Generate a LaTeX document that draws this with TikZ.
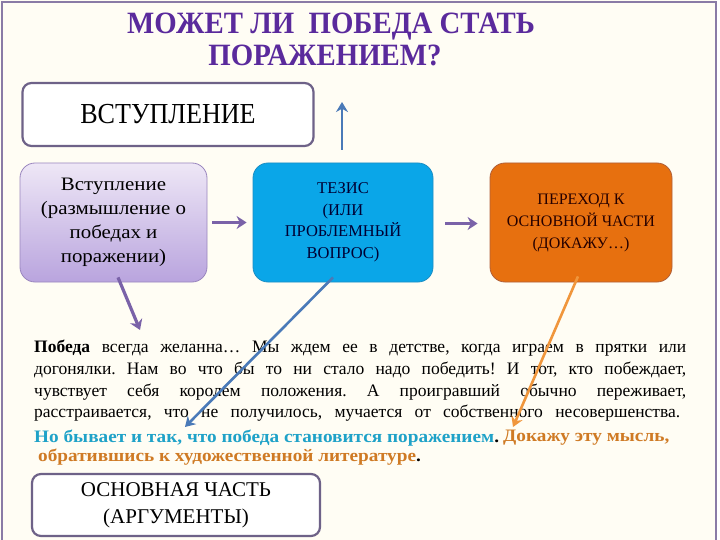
\documentclass[tikz,border=0pt]{standalone}
\usepackage{fontspec}
\setmainfont{Liberation Serif}
\newfontfamily\wideserif{Liberation Serif}[FakeStretch=1.1]
\usetikzlibrary{arrows.meta}
\frenchspacing

\definecolor{paper}{HTML}{FFFDF4}
\definecolor{frameLine}{HTML}{8A7BA6}
\definecolor{boxEdge}{HTML}{6E6288}
\definecolor{lavTop}{HTML}{EEE7F6}
\definecolor{lavBot}{HTML}{B9A4DE}
\definecolor{lavEdge}{HTML}{9A86BE}
\definecolor{thesisBlue}{HTML}{0AA6E8}
\definecolor{thesisEdge}{HTML}{1B8EC4}
\definecolor{transOrange}{HTML}{E7700F}
\definecolor{transEdge}{HTML}{B0603A}
\definecolor{titlePurple}{HTML}{5A2A9C}
\definecolor{arrPurple}{HTML}{7A62A8}
\definecolor{arrBlue}{HTML}{4A7AB8}
\definecolor{arrOrange}{HTML}{F0963C}
\definecolor{txtBlue}{HTML}{1FA2C8}
\definecolor{txtOrange}{HTML}{CF7A24}

\begin{document}
\begin{tikzpicture}[x=1pt, y=-1pt,
        box/.style={draw=boxEdge, line width=2.2pt, rounded corners=9pt, fill=white, align=center},
        colorbox/.style={rounded corners=15pt, minimum width=182pt, minimum height=119pt, align=center},
        line/.style={anchor=west, inner sep=0pt},
        arrowPurple/.style={arrPurple, line width=3.2pt, -{Stealth[length=10pt, width=13pt]}},
        arrowBlue/.style={arrBlue, line width=2.6pt, -{Stealth[length=10pt, width=12pt]}},
        arrowOrange/.style={arrOrange, line width=2.6pt, -{Stealth[length=10pt, width=12pt]}}]

        \useasboundingbox (0,0) rectangle (720,540);
        \fill[paper] (0,0) rectangle (716,540);
        \draw[frameLine, line width=2.5pt] (2,541) -- (2,2) -- (716,2) -- (716,541);

        % title
        \node[titlePurple, font=\fontsize{31}{31}\bfseries] (T1) at (331,27) {\scalebox{0.93}[1]{МОЖЕТ ЛИ\ \ ПОБЕДА СТАТЬ}};
        \node[titlePurple, font=\fontsize{31}{31}\bfseries] (T2) at (325,55) {\scalebox{0.93}[1]{ПОРАЖЕНИЕМ?}};

        % boxes
        \node[box, minimum width=291pt, minimum height=63pt, font=\fontsize{29}{29}\selectfont] (A) at (168,114.5) {\scalebox{0.9}[1]{ВСТУПЛЕНИЕ}};
        \node[colorbox, minimum width=187pt, draw=lavEdge, line width=0.8pt, top color=lavTop, bottom color=lavBot,
              font=\wideserif\fontsize{19}{24}\selectfont] (B) at (113.5,222.5)
              {Вступление\\(размышление о\\победах и\\поражении)};
        \node[colorbox, minimum width=180pt, draw=thesisEdge, line width=0.8pt, fill=thesisBlue, text=black!80!blue,
              font=\fontsize{16.5}{21.5}\selectfont] (C) at (343,222.5)
              {ТЕЗИС\\(ИЛИ\\ПРОБЛЕМНЫЙ\\ВОПРОС)};
        \node[colorbox, draw=transEdge, line width=0.8pt, fill=transOrange, text=black!85!red,
              font=\fontsize{16}{22}\selectfont] (D) at (581,222.5)
              {ПЕРЕХОД К\\ОСНОВНОЙ ЧАСТИ\\(ДОКАЖУ…)};
        \node[box, minimum width=288pt, minimum height=62pt, font=\fontsize{21}{27}\selectfont] (E) at (176,505)
              {ОСНОВНАЯ ЧАСТЬ\\(АРГУМЕНТЫ)};

        % text
        \node[line, font=\fontsize{17.5}{17.5}\selectfont] (L1) at (34,348)
              {\makebox[652pt][s]{\textbf{Победа} всегда желанна… Мы ждем ее в детстве, когда играем в прятки или}};
        \node[line, font=\fontsize{17.5}{17.5}\selectfont] (L2) at (34,370)
              {\makebox[652pt][s]{догонялки. Нам во что бы то ни стало надо победить! И тот, кто побеждает,}};
        \node[line, font=\fontsize{17.5}{17.5}\selectfont] (L3) at (34,392)
              {\makebox[652pt][s]{чувствует себя королем положения. А проигравший обычно переживает,}};
        \node[line, font=\fontsize{17.5}{17.5}\selectfont] (L4) at (34,413)
              {\makebox[646pt][s]{расстраивается, что не получилось, мучается от собственного несовершенства.}};
        \node[line, font=\wideserif\fontsize{17.5}{17.5}\bfseries, text=txtBlue] (L5) at (34,438)
              {Но бывает и так, что победа становится поражением{\color{black}.}};
        \node[line, font=\wideserif\fontsize{17.5}{17.5}\bfseries, text=txtOrange] (L6) at (503,438)
              {Докажу эту мысль,};
        \node[line, font=\wideserif\fontsize{17.5}{17.5}\bfseries, text=txtOrange] (L7) at (38,457)
              {обратившись к художественной литературе{\color{black}.}};

        % arrows
        \coordinate (U) at (342,102);
        \coordinate (P) at (140,330);
        \coordinate (Q) at (185,427);
        \coordinate (R) at (513,427);
        \draw[arrowBlue] (C.north) ++(-1,-13) -- (U);
        \draw[arrowPurple, shorten <=5pt, shorten >=6pt] (B.east) -- (C.west);
        \draw[arrowPurple, shorten <=12pt, shorten >=12pt] ([yshift=-1pt]C.east) -- ([yshift=-1pt]D.west);
        \draw[arrowPurple] ([shift={(4.5,-5)}]B.south) -- (P);
        \draw[arrowBlue] ([shift={(-10,-5)}]C.south) -- (Q);
        \draw[arrowOrange] ([shift={(-3,-6)}]D.south) -- (R);
    \end{tikzpicture}
\end{document}
